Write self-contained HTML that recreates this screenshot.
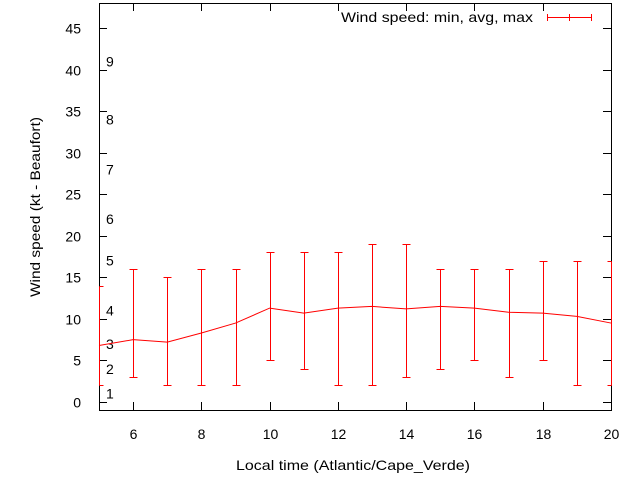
<!DOCTYPE html>
<html><head><meta charset="utf-8"><style>
body{margin:0;background:#fff}
svg{display:block;font-family:"Liberation Sans",sans-serif}
</style></head><body>
<svg id="chart" width="640" height="480" xmlns="http://www.w3.org/2000/svg">
<rect x="99.5" y="3.5" width="512" height="407" fill="none" stroke="#000" stroke-width="1"/>
<g id="ticks"></g>
<g id="beaufort"></g>
<g id="series"></g>
<text transform="translate(40,207) rotate(-90)" text-anchor="middle" font-size="14" textLength="180" lengthAdjust="spacingAndGlyphs">Wind speed (kt - Beaufort)</text>
<text x="353" y="470" text-anchor="middle" font-size="14" textLength="234" lengthAdjust="spacingAndGlyphs">Local time (Atlantic/Cape_Verde)</text>
<g>
<text x="533" y="22" text-anchor="end" font-size="14" textLength="192" lengthAdjust="spacingAndGlyphs">Wind speed: min, avg, max</text>
<g stroke="red" stroke-width="1">
<line x1="547" y1="17.5" x2="592" y2="17.5"/><line x1="547.5" y1="14" x2="547.5" y2="21"/><line x1="569.5" y1="14" x2="569.5" y2="21"/><line x1="591.5" y1="14" x2="591.5" y2="21"/>
</g></g>
</svg>
<script>
const hours=[5,6,7,8,9,10,11,12,13,14,15,16,17,18,19,20];
const avgKt=[6.8,7.5,7.2,8.3,9.5,11.3,10.7,11.3,11.5,11.2,11.5,11.3,10.8,10.7,10.3,9.5];
const minKt=[2,3,2,2,2,5,4,2,2,3,4,5,3,5,2,2];
const maxKt=[14,16,15,16,16,18,18,18,19,19,16,16,16,17,17,17];
const yTicks=[0,5,10,15,20,25,30,35,40,45];
const xTicks=[6,8,10,12,14,16,18,20];
const beaufortKt=[1,4,7,11,17,22,28,34,41];
const beaufortLabels=["1","2","3","4","5","6","7","8","9"];
const NS="http://www.w3.org/2000/svg";
function X(h){return 99+(h-5)*(512/15);}
function Y(v){return 402-v*8.31;}
function mk(tag,attrs,parent,txt){const e=document.createElementNS(NS,tag);for(const k in attrs)e.setAttribute(k,attrs[k]);if(txt!==undefined)e.textContent=txt;parent.appendChild(e);return e;}
const tg=document.getElementById('ticks');
yTicks.forEach(v=>{const y=Math.round(Y(v))+0.5;
 const l=mk('line',{x1:99,y1:y,x2:107,y2:y,stroke:'#000'},tg);
 
 
 mk('line',{x1:603,y1:y,x2:611,y2:y,stroke:'#000'},tg);
 const t=mk('text',{x:81,y:y+5,'text-anchor':'end','font-size':14},tg,String(v));
 
 
});
xTicks.forEach(h=>{const x=Math.round(X(h))+0.5;
 const l=mk('line',{x1:x,y1:410,x2:x,y2:402,stroke:'#000'},tg);
 
 
 mk('line',{x1:x,y1:3,x2:x,y2:11,stroke:'#000'},tg);
 const t=mk('text',{x:x,y:439,'text-anchor':'middle','font-size':14},tg,String(h));
 
 
});
const bg=document.getElementById('beaufort');
beaufortKt.forEach((v,i)=>{const t=mk('text',{x:106,y:Y(v)+5,'font-size':14},bg,beaufortLabels[i]);
 
 
});
const sg=document.getElementById('series');
const line=mk('polyline',{points:hours.map((h,i)=>X(h)+','+Y(avgKt[i])).join(' '),fill:'none',stroke:'red','stroke-width':1},sg);


hours.forEach((h,i)=>{const x=Math.round(X(h))+0.5;const g=mk('g',{stroke:'red','stroke-width':1},sg);
 
 
 const y1=Math.round(Y(minKt[i]))+0.5,y2=Math.round(Y(maxKt[i]))+0.5;
 mk('line',{x1:x,y1:y1,x2:x,y2:y2},g);
 mk('line',{x1:Math.max(x-4,99.5),y1:y1,x2:Math.min(x+4,611.5),y2:y1},g);
 mk('line',{x1:Math.max(x-4,99.5),y1:y2,x2:Math.min(x+4,611.5),y2:y2},g);
});
</script>
</body></html>
